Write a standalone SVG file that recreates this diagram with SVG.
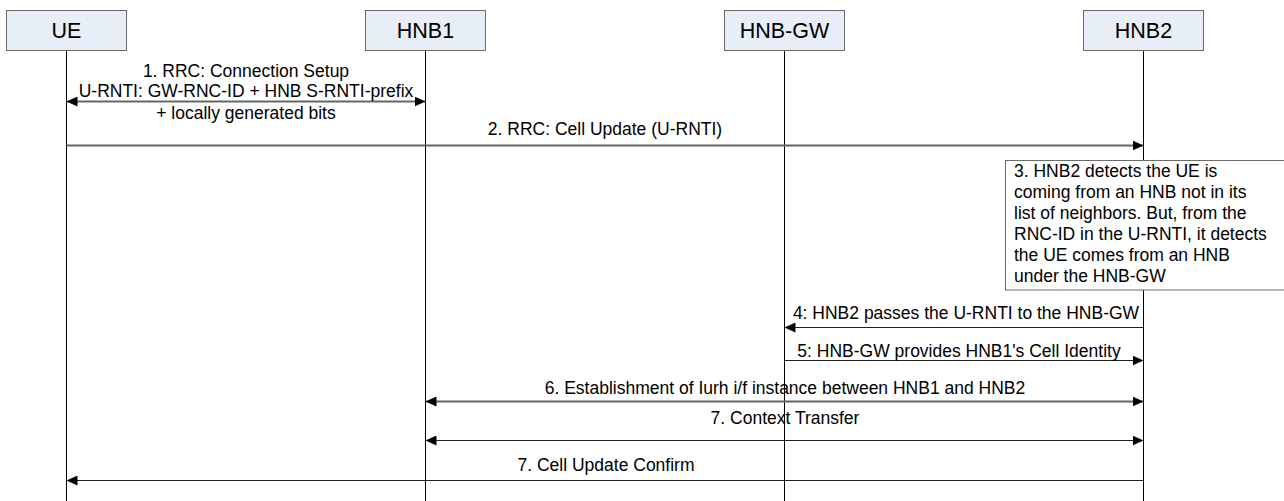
<svg xmlns="http://www.w3.org/2000/svg" width="1284" height="501" viewBox="0 0 1284 501">
<defs>
<style>
.box{fill:#e8eef7;stroke:#6b6b6b;stroke-width:1}
.lbl{font-family:"Liberation Sans",Arial,sans-serif;font-size:21.5px;fill:#000;text-anchor:middle}
.life{stroke:#000;stroke-width:1;fill:none}
.msg{stroke:#222;stroke-width:1.2;fill:none}
.msgg{stroke:#666;stroke-width:1.8;fill:none}
.t{font-family:"Liberation Sans",Arial,sans-serif;font-size:17.5px;fill:#000;text-anchor:middle}
.tl{font-family:"Liberation Sans",Arial,sans-serif;font-size:17.5px;fill:#000}
.note{fill:#fff;stroke:#6b6b6b;stroke-width:1}
</style>
<marker id="ah" viewBox="0 0 11 10" refX="11" refY="5" markerWidth="11" markerHeight="10" markerUnits="userSpaceOnUse" orient="auto-start-reverse">
<path d="M0,0 L11,5 L0,10 Z" fill="#000"/>
</marker>
</defs>
<g id="lifelines">
<line class="life" x1="66.5" y1="50" x2="66.5" y2="501"/>
<line class="life" x1="425.5" y1="50" x2="425.5" y2="501"/>
<line class="life" x1="784.5" y1="50" x2="784.5" y2="501"/>
<line class="life" x1="1143.5" y1="50" x2="1143.5" y2="501"/>
</g>
<g id="UE"><rect class="box" x="6.5" y="10.5" width="120" height="40"/><text class="lbl" x="66.5" y="38">UE</text></g>
<g id="HNB1"><rect class="box" x="365.5" y="10.5" width="120" height="40"/><text class="lbl" x="425.5" y="38">HNB1</text></g>
<g id="HNB-GW"><rect class="box" x="724.5" y="10.5" width="120" height="40"/><text class="lbl" x="784.5" y="38">HNB-GW</text></g>
<g id="HNB2"><rect class="box" x="1083.5" y="10.5" width="120" height="40"/><text class="lbl" x="1143.5" y="38">HNB2</text></g>
<g id="note3">
<rect class="note" x="1005.5" y="160.5" width="280" height="129.5"/>
<text class="tl" x="1014" y="177">3. HNB2 detects the UE is</text>
<text class="tl" x="1014" y="198">coming from an HNB not in its</text>
<text class="tl" x="1014" y="219">list of neighbors. But, from the</text>
<text class="tl" x="1014" y="240">RNC-ID in the U-RNTI, it detects</text>
<text class="tl" x="1014" y="261">the UE comes from an HNB</text>
<text class="tl" x="1014" y="282">under the HNB-GW</text>
</g>
<g id="connectors">
<line class="msgg" x1="66.5" y1="101.5" x2="425.5" y2="101.5" marker-start="url(#ah)" marker-end="url(#ah)"/>
<line class="msgg" x1="66.5" y1="145.5" x2="1143.5" y2="145.5" marker-end="url(#ah)"/>
<line class="msg" x1="1143.5" y1="327.5" x2="784.5" y2="327.5" marker-end="url(#ah)"/>
<line class="msg" x1="784.5" y1="360.5" x2="1143.5" y2="360.5" marker-end="url(#ah)"/>
<line class="msgg" x1="425.5" y1="401.5" x2="1143.5" y2="401.5" marker-start="url(#ah)" marker-end="url(#ah)"/>
<line class="msg" x1="425.5" y1="440.5" x2="1143.5" y2="440.5" marker-start="url(#ah)" marker-end="url(#ah)"/>
<line class="msg" x1="1143.5" y1="480.5" x2="66.5" y2="480.5" marker-end="url(#ah)"/>
</g>
<g id="labels">
<text class="t" x="246" y="77">1. RRC: Connection Setup</text>
<text class="t" x="246" y="97">U-RNTI: GW-RNC-ID + HNB S-RNTI-prefix</text>
<text class="t" x="246" y="119">+ locally generated bits</text>
<text class="t" x="605" y="135">2. RRC: Cell Update (U-RNTI)</text>
<text class="t" x="966" y="319">4: HNB2 passes the U-RNTI to the HNB-GW</text>
<text class="t" x="959" y="357">5: HNB-GW provides HNB1's Cell Identity</text>
<text class="t" x="785" y="394">6. Establishment of Iurh i/f instance between HNB1 and HNB2</text>
<text class="t" x="785" y="424">7. Context Transfer</text>
<text class="t" x="606" y="471">7. Cell Update Confirm</text>
</g>
</svg>
